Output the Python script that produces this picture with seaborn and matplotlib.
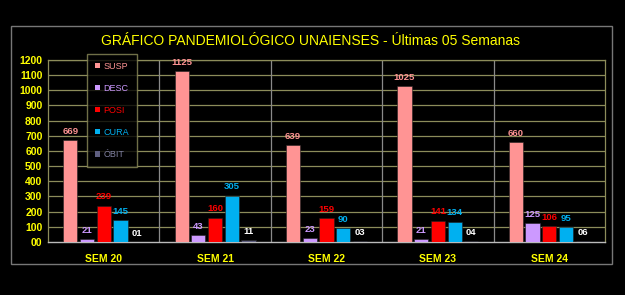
import matplotlib
matplotlib.use("Agg")
import matplotlib.pyplot as plt
import seaborn as sns
import pandas as pd
from matplotlib.patches import Rectangle

categories = ["SEM 20", "SEM 21", "SEM 22", "SEM 23", "SEM 24"]
series = ["SUSP", "DESC", "POSI", "CURA", "ÓBIT"]
susp = [669, 1125, 639, 1025, 660]
desc = [21, 43, 23, 21, 125]
posi = [239, 160, 159, 141, 106]
cura = [145, 305, 90, 134, 95]
obit = [1, 11, 3, 4, 6]
y_ticks = list(range(0, 1300, 100))
y_tick_labels = ["00"] + [str(v) for v in y_ticks[1:]]

bar_colors = ["#ff9494", "#cc99ff", "#ff0000", "#00b0f0", "#5f5f80"]
label_colors = ["#ff9494", "#cc99ff", "#ff0000", "#00b0f0", "#ffffff"]
legend_text_colors = ["#ff9494", "#cc99ff", "#ff0000", "#00b0f0", "#8080a0"]
yellow = "#ffff00"
olive = "#8c8c5a"

values = [susp, desc, posi, cura, obit]
rows = []
for s, vals in zip(series, values):
    for c, v in zip(categories, vals):
        rows.append({"sem": c, "serie": s, "val": v})
df = pd.DataFrame(rows)

sns.set_style("dark")
plt.rcParams["font.family"] = ["Liberation Sans", "DejaVu Sans"]

fig = plt.figure(figsize=(6.25, 2.95), dpi=100, facecolor="black")
ax = fig.add_axes([0.0768, 0.180, 0.8912, 0.617])
ax.set_facecolor("black")

sns.barplot(data=df, x="sem", y="val", hue="serie", order=categories,
            hue_order=series, palette=bar_colors, width=0.75, gap=0.15,
            saturation=1, edgecolor="#202020", linewidth=0.4, ax=ax,
            legend=False, zorder=3)

for cont, col, vals in zip(ax.containers, label_colors, values):
    ax.bar_label(cont, labels=[f"{v:02d}" for v in vals], color=col,
                 fontsize=6.8, padding=3, fontweight="bold")

ax.set_ylim(0, 1200)
ax.set_xlim(-0.5, len(categories) - 0.5)
ax.set_yticks(y_ticks)
ax.set_yticklabels(y_tick_labels, color=yellow, fontsize=7.5, fontweight="bold")
ax.set_xticks(range(len(categories)))
ax.set_xticklabels(categories, color=yellow, fontsize=7.5, fontweight="bold")
ax.tick_params(axis="both", length=0, pad=4)
ax.tick_params(axis="x", pad=9)
ax.grid(False)
for y in y_ticks[1:]:
    ax.axhline(y, color=olive, lw=0.9, zorder=1)
for x in [0.5, 1.5, 2.5, 3.5]:
    ax.axvline(x, color="#8a8a8a", lw=0.9, zorder=1)
for side in ["top", "right", "left"]:
    ax.spines[side].set_color(olive)
    ax.spines[side].set_linewidth(0.9)
ax.spines["bottom"].set_color("#bbbbbb")
ax.spines["bottom"].set_linewidth(1.0)
ax.set_xlabel("")
ax.set_ylabel("")

# outer frame
fig.patches.append(Rectangle((0.0176, 0.105), 0.9614, 0.807, transform=fig.transFigure,
                             fill=False, edgecolor="#777777", lw=1.0))

fig.text(0.497, 0.861, "GRÁFICO PANDEMIOLÓGICO UNAIENSES - Últimas 05 Semanas",
         color=yellow, fontsize=10, ha="center", va="center")

# legend
handles = [Rectangle((0, 0), 1, 1, facecolor=c, edgecolor="none") for c in bar_colors]
leg = ax.legend(handles, series, loc="upper left", bbox_to_anchor=(0.070, 1.035),
                frameon=True, fontsize=6.5, labelspacing=1.45, handlelength=0.55,
                handleheight=0.55, handletextpad=0.4, borderpad=0.9,
                borderaxespad=0, facecolor="black", edgecolor=olive, fancybox=False)
leg.get_frame().set_linewidth(1.0)
leg.set_zorder(5)
for t, c in zip(leg.get_texts(), legend_text_colors):
    t.set_color(c)

fig.savefig("out.png", dpi=100, facecolor="black")
